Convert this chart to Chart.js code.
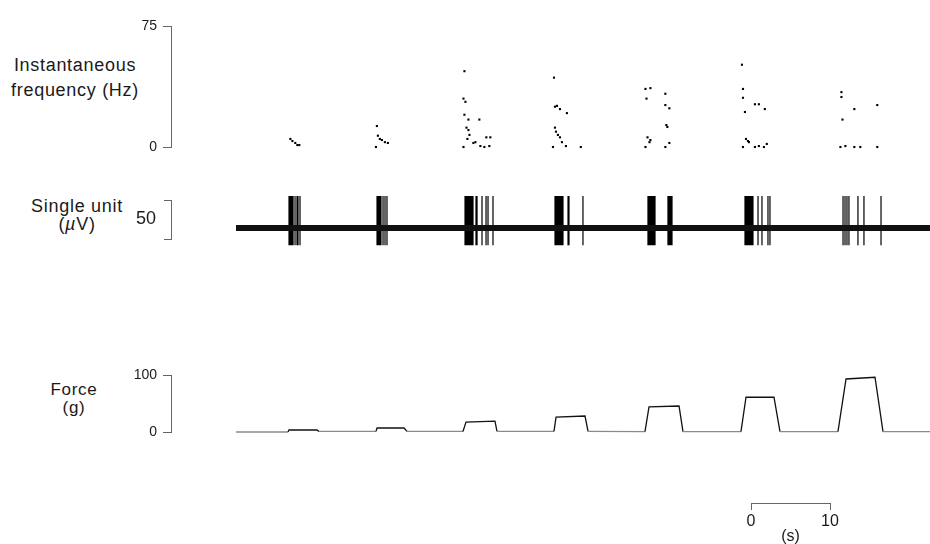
<!DOCTYPE html>
<html>
<head>
<meta charset="utf-8">
<script src="https://cdn.jsdelivr.net/npm/chart.js@4.4.1/dist/chart.umd.min.js"></script>
<style>
  body { margin: 0; background: #fff; }
  #wrap { position: relative; width: 930px; height: 544px; overflow: hidden; background: #fff;
          font-family: "Liberation Sans", Arial, sans-serif; color: #1a1a1a; }
  .box { position: absolute; }
  .lbl { position: absolute; text-align: center; font-size: 18px; letter-spacing: 0.7px; white-space: nowrap; }
</style>
</head>
<body>
<div id="wrap">
  <div class="lbl" style="left:0;top:53px;width:150px;line-height:25px">Instantaneous<br>frequency (Hz)</div>
  <div class="lbl" style="left:0;top:197px;width:154px;line-height:18px">Single unit<br>(<i>µ</i>V)</div>
  <div class="lbl" style="left:0;top:381px;width:148px;line-height:18px;font-size:17px">Force<br>(g)</div>

  <div class="box" style="left:0;top:6px;width:930px;height:161px"><canvas id="freqChart"></canvas></div>
  <div class="box" style="left:0;top:180px;width:930px;height:79px"><canvas id="unitChart"></canvas></div>
  <div class="box" style="left:0;top:355px;width:930px;height:97px"><canvas id="forceChart"></canvas></div>
  <div class="box" style="left:700px;top:490px;width:180px;height:54px"><canvas id="barChart"></canvas></div>
</div>
<script>
// time axis (s), trace starts at 0
const X_MIN = -8.23;
const X_MAX = 87.85;

// instantaneous frequency, one dot per spike interval
const freqTimes = [
    6.96, 7.22, 7.59, 7.85, 8.10,
    17.97, 18.10, 18.35, 18.61, 18.99, 19.37, 17.85,
    29.11, 28.99, 29.24, 29.11, 29.62, 31.01, 29.37, 29.62, 29.75, 29.49, 30.25, 30.51, 31.14, 31.65, 31.90, 32.41, 32.28, 28.99,
    40.51, 40.63, 40.89, 41.27, 42.15, 40.63, 40.76, 41.01, 41.27, 41.52, 42.03, 40.38, 43.92,
    52.15, 52.78, 52.28, 54.68, 54.68, 55.19, 54.81, 54.94, 52.41, 52.78, 52.66, 52.15, 54.68, 55.19,
    64.43, 64.56, 64.56, 66.08, 66.58, 67.34, 64.81, 64.94, 65.19, 65.32, 66.08, 66.58, 67.22, 67.59, 64.56,
    77.09, 77.09, 78.73, 81.65, 77.22, 76.96, 77.59, 78.73, 79.49, 81.65
];
const freqHz = [
    5, 3.7, 2.5, 1.2, 1.2,
    13, 7, 5, 4.3, 3, 2.5, 0,
    47, 30, 28, 20, 17, 17, 12, 10.5, 7.5, 5, 2.5, 3, 0.6, 0, 6, 6, 0.6, 0,
    43, 25, 25.5, 23.5, 21, 12, 9.5, 7.5, 6, 3, 0.6, 0, 0,
    36, 36.5, 30, 33, 26, 24, 13.6, 12.4, 6, 4.3, 3, 0, 0, 2.5,
    51, 36, 30.5, 26.5, 26.5, 23.5, 21.7, 5, 3.7, 3, 0, 0.6, 0, 1.9, 0,
    34, 31, 23.5, 26, 17, 0, 0.6, 0, 0, 0
];
const freqTicks = [0, 75];

// single unit spikes (s) and their extent (uV)
const spikeTimes = [
    6.71, 6.84, 6.96, 7.09, 7.22, 7.47, 7.72, 7.85, 8.10,
    17.85, 17.97, 18.10, 18.23, 18.35, 18.61, 18.86, 19.11,
    28.99, 29.11, 29.24, 29.37, 29.49, 29.62, 29.75, 29.87, 30.00, 30.38, 30.51, 31.14, 31.65, 31.90, 32.53,
    40.38, 40.51, 40.63, 40.76, 40.89, 41.01, 41.14, 41.27, 41.39, 42.03, 42.15, 43.92,
    52.15, 52.28, 52.41, 52.53, 52.66, 52.78, 52.91, 53.04, 54.68, 54.81, 54.94, 55.06, 55.19,
    64.43, 64.56, 64.68, 64.81, 64.94, 65.06, 65.19, 65.32, 65.44, 66.08, 66.58, 67.34, 67.59,
    76.84, 77.09, 77.34, 77.59, 78.73, 79.49, 81.65
];
const spikeTop = 41;
const spikeBottom = -22;
const noiseTimes = [0, 87.85];
const noiseLevel = [0, 0];
const unitBarTicks = [-14, 11, 36];   // 50 uV bracket, label in the middle

// force trace
const forceTimes = [0, 6.58, 6.71, 10.25, 10.51, 17.72, 17.85, 21.27, 21.65, 28.73, 29.11, 32.78, 33.04,
    40.25, 40.51, 44.18, 44.56, 51.77, 52.28, 56.08, 56.58, 63.92, 64.56, 68.10, 68.86,
    76.20, 77.22, 80.89, 81.90, 87.85];
const forceG = [0, 0, 3.5, 3.5, 1, 1, 7, 7, 1, 1, 17.5, 19, 1,
    1, 26, 28, 1, 0.5, 44, 45.6, 0.5, 0.5, 61, 61, 0.5,
    0.5, 93, 96, 0.5, 0.5];
const forceTicks = [0, 100];

// time scale bar
const scaleBarTicks = [0, 10];

Chart.defaults.font.family = '"Liberation Sans", Arial, sans-serif';
Chart.defaults.color = '#1a1a1a';
Chart.defaults.animation = false;

const AXIS_GREY = '#666';
const PAD = { top: 20, bottom: 20, left: 0, right: 0 };

function timeAxis() {
    return { type: 'linear', min: X_MIN, max: X_MAX, display: false };
}

function leftAxis(min, max, tickVals, fontSize) {
    return {
        type: 'linear',
        min: min,
        max: max,
        afterFit: (s) => { s.width = 171; },
        afterBuildTicks: (s) => { s.ticks = tickVals.map(v => ({ value: v })); },
        ticks: { font: { size: fontSize }, color: '#1a1a1a', padding: 6, autoSkip: false },
        grid: { drawOnChartArea: false, tickLength: 8, color: AXIS_GREY, lineWidth: 1 },
        border: { color: AXIS_GREY, width: 1 }
    };
}

const noLegend = { legend: { display: false }, tooltip: { enabled: false } };

// frequency panel
new Chart(document.getElementById('freqChart'), {
    type: 'scatter',
    data: {
        datasets: [{
            data: freqTimes.map((t, i) => ({ x: t, y: freqHz[i] })),
            pointStyle: 'rect',
            pointRadius: 1.5,
            backgroundColor: '#000',
            borderWidth: 0,
            clip: false
        }]
    },
    options: {
        responsive: true,
        maintainAspectRatio: false,
        layout: { padding: PAD },
        plugins: noLegend,
        scales: { x: timeAxis(), y: leftAxis(0, 75, freqTicks, 14) }
    }
});

// single unit panel
const spikePts = [];
spikeTimes.forEach(t => {
    spikePts.push({ x: t, y: spikeBottom }, { x: t, y: spikeTop }, { x: t, y: null });
});
const unitY = leftAxis(-14, 36, unitBarTicks, 18);
unitY.ticks.callback = (v) => v === 11 ? '50' : '';
unitY.ticks.padding = 8;
unitY.grid.tickLength = 7;
unitY.grid.color = (c) => (c.tick && c.tick.value === 11) ? 'rgba(0,0,0,0)' : AXIS_GREY;

new Chart(document.getElementById('unitChart'), {
    type: 'line',
    data: {
        datasets: [{
            data: noiseTimes.map((t, i) => ({ x: t, y: noiseLevel[i] })),
            borderColor: '#111',
            borderWidth: 6,
            pointRadius: 0,
            clip: false
        }, {
            data: spikePts,
            borderColor: '#000',
            borderWidth: 1.2,
            pointRadius: 0,
            spanGaps: false,
            clip: false
        }]
    },
    options: {
        responsive: true,
        maintainAspectRatio: false,
        layout: { padding: PAD },
        plugins: noLegend,
        scales: { x: timeAxis(), y: unitY }
    }
});

// force panel
new Chart(document.getElementById('forceChart'), {
    type: 'line',
    data: {
        datasets: [{
            data: forceTimes.map((t, i) => ({ x: t, y: forceG[i] })),
            borderColor: '#111',
            borderWidth: 1.3,
            pointRadius: 0,
            clip: false,
            segment: {
                borderColor: (c) => (c.p0.parsed.y <= 1.5 && c.p1.parsed.y <= 1.5) ? '#8a8a8a' : '#111'
            }
        }]
    },
    options: {
        responsive: true,
        maintainAspectRatio: false,
        layout: { padding: PAD },
        plugins: noLegend,
        scales: { x: timeAxis(), y: leftAxis(0, 100, forceTicks, 14) }
    }
});

// 10 s scale bar
new Chart(document.getElementById('barChart'), {
    type: 'line',
    data: { datasets: [] },
    options: {
        responsive: true,
        maintainAspectRatio: false,
        layout: { padding: { top: 0, bottom: 0, left: 51, right: 50 } },
        plugins: noLegend,
        scales: {
            x: {
                type: 'linear',
                position: 'bottom',
                min: 0,
                max: 10,
                afterFit: (s) => { s.height = 41; },
                afterBuildTicks: (s) => { s.ticks = scaleBarTicks.map(v => ({ value: v })); },
                ticks: { font: { size: 16 }, color: '#1a1a1a', padding: 2, maxRotation: 0 },
                grid: { drawOnChartArea: false, tickLength: 7, color: AXIS_GREY },
                border: { color: AXIS_GREY },
                title: { display: true, text: '(s)', font: { size: 16 }, color: '#1a1a1a', padding: { top: 0, bottom: -2 } }
            },
            y: { display: false }
        }
    }
});
</script>
</body>
</html>
